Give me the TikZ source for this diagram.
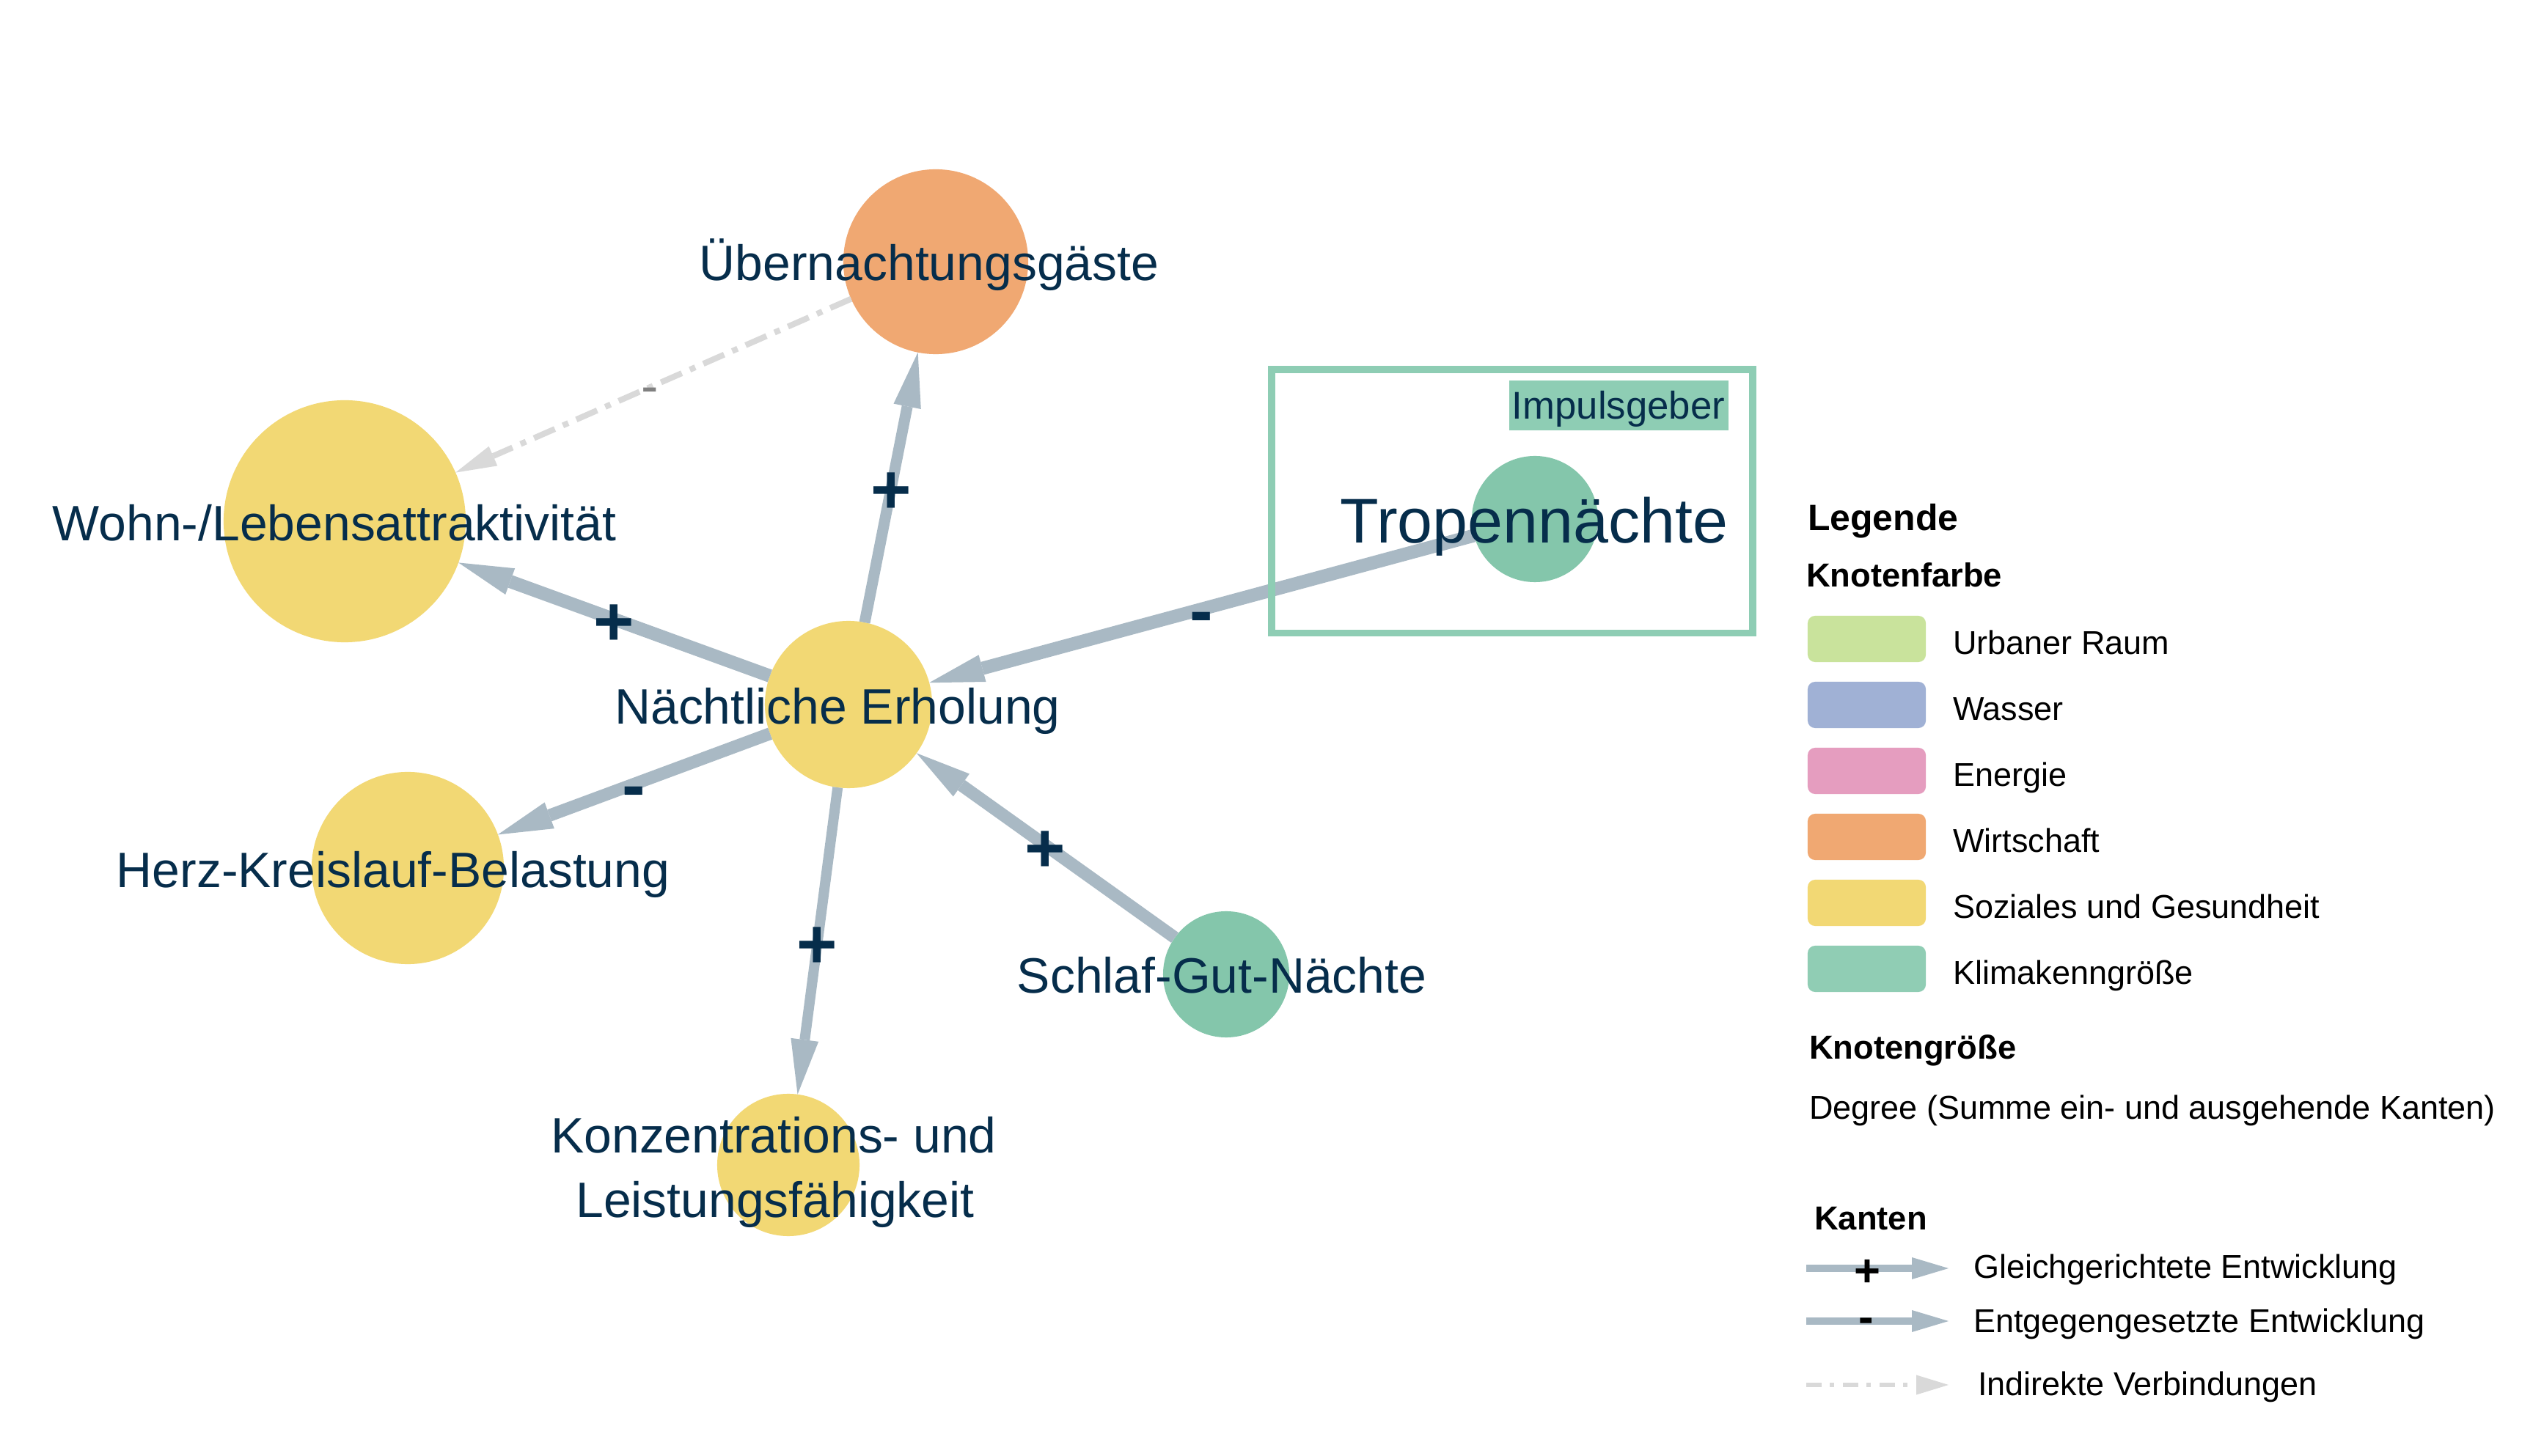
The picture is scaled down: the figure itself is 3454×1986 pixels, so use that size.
\documentclass[tikz,border=0pt]{standalone}
\usepackage{fontspec}
\setmainfont{Liberation Sans}
\usetikzlibrary{arrows.meta}
\definecolor{navy}{HTML}{062D4B}
\definecolor{edgegray}{HTML}{A9B9C4}
\definecolor{indgray}{HTML}{D9D9D9}
\definecolor{nyellow}{HTML}{F2D874}
\definecolor{norange}{HTML}{F0A872}
\definecolor{ngreen}{HTML}{84C6AB}
\definecolor{framegreen}{HTML}{8ECDB4}
\definecolor{cUrb}{HTML}{C9E39C}
\definecolor{cWas}{HTML}{A0B1D5}
\definecolor{cEne}{HTML}{E59DBF}
\definecolor{cWir}{HTML}{F0A872}
\definecolor{cSoz}{HTML}{F2D874}
\definecolor{cKli}{HTML}{90CDB4}
\begin{document}
\begin{tikzpicture}[x=0.01cm,y=-0.01cm,
  nodec/.style={circle,inner sep=0pt,outer sep=0pt,draw=none},
  lab/.style={inner sep=0pt,outer sep=0pt,text=navy,anchor=base,font=\fontsize{19.3}{23}\selectfont},
  sgn/.style={inner sep=0pt,outer sep=0pt,text=navy,anchor=base,font=\fontsize{27}{32}\selectfont\bfseries},
  edgeline/.style={draw=edgegray,line width=#1,-{Triangle[length=0.75cm,width=0.38cm,line width=0pt]}},
  indirect/.style={draw=indgray,line width=0.08cm,dash pattern=on 0.31cm off 0.12cm on 0.08cm off 0.12cm,-{Triangle[length=0.56cm,width=0.29cm,line width=0pt]}},
  swatch/.style={draw=none,rounded corners=0.1cm,minimum width=1.61cm,minimum height=0.63cm,inner sep=0pt,outer sep=0pt},
  legtxt/.style={inner sep=0pt,outer sep=0pt,anchor=base west,text=black,font=\fontsize{12.8}{15}\selectfont},
  leghead/.style={inner sep=0pt,outer sep=0pt,anchor=base west,text=black,font=\fontsize{12.9}{15}\selectfont\bfseries},
  legsgn/.style={inner sep=0pt,outer sep=0pt,anchor=base,text=black,font=\fontsize{17.5}{21}\selectfont\bfseries}
]
\fill[white] (0,0) rectangle (3454,1986);
\useasboundingbox (0,0) rectangle (3454,1986);

% nodes (circles)
\node[nodec,fill=norange,minimum size=2.52cm] (ueb) at (1276,357) {};
\node[nodec,fill=nyellow,minimum size=3.30cm] (wohn) at (470,711) {};
\node[nodec,fill=nyellow,minimum size=2.28cm] (ne) at (1157,961) {};
\node[nodec,fill=nyellow,minimum size=2.62cm] (herz) at (556,1184) {};
\node[nodec,fill=nyellow,minimum size=1.94cm] (konz) at (1075,1589) {};
\node[nodec,fill=ngreen,minimum size=1.72cm] (schlaf) at (1672,1329) {};
\node[nodec,fill=ngreen,minimum size=1.72cm] (tropen) at (2093,708) {};

% edges
\draw[edgeline=0.18cm] (ne) -- (wohn);
\draw[edgeline=0.15cm] (ne) -- (ueb);
\draw[edgeline=0.18cm] (tropen) -- (ne);
\draw[edgeline=0.17cm] (ne) -- (herz);
\draw[edgeline=0.14cm] (ne) -- (konz);
\draw[edgeline=0.17cm] (schlaf) -- (ne);
\draw[indirect] (ueb) -- (wohn);

% Impulsgeber frame
\node[draw=framegreen,line width=0.095cm,minimum width=6.56cm,minimum height=3.595cm,inner sep=0pt,outer sep=0pt] (impframe) at (2062,683.75) {};
\node[fill=framegreen,minimum width=2.99cm,minimum height=0.68cm,inner sep=0pt,outer sep=0pt] (impbox) at (2207.5,553) {};
\node[inner sep=0pt,anchor=base,text=navy,font=\fontsize{15}{18}\selectfont] (imp) at (2207,572) {Impulsgeber};

% node labels
\node[lab] (lueb) at (1267,383) {Übernachtungsgäste};
\node[lab] (lwohn) at (456,738) {Wohn-/Lebensattraktivität};
\node[lab] (lne) at (1142,988) {Nächtliche Erholung};
\node[lab] (lherz) at (536,1211) {Herz-Kreislauf-Belastung};
\node[lab] (lkonza) at (1055,1572) {Konzentrations- und};
\node[lab] (lkonzb) at (1057,1660) {Leistungsfähigkeit};
\node[lab] (lschlaf) at (1666,1354) {Schlaf-Gut-Nächte};
\node[lab,font=\fontsize{24.5}{29}\selectfont] (ltropen) at (2092,741) {Tropennächte};

% edge signs
\node[sgn] (s1) at (837,880.5) {+};
\node[sgn] (s2) at (1215,700.5) {+};
\node[sgn] (s3) at (1638,866) {-};
\node[sgn] (s4) at (864,1104) {-};
\node[sgn] (s5) at (1114,1320.5) {+};
\node[sgn] (s6) at (1425,1189.5) {+};
\node[inner sep=0pt,anchor=base,text=gray,font=\fontsize{20}{24}\selectfont] (s7) at (886,551) {-};

% legend
\node[inner sep=0pt,outer sep=0pt,anchor=base west,font=\fontsize{14.2}{17}\selectfont\bfseries] (leg) at (2465,724) {Legende};
\node[leghead] (hfarbe) at (2463,801) {Knotenfarbe};
\node[swatch,fill=cUrb] (sw1) at (2545.5,871.5) {};
\node[swatch,fill=cWas] (sw2) at (2545.5,961.5) {};
\node[swatch,fill=cEne] (sw3) at (2545.5,1051.5) {};
\node[swatch,fill=cWir] (sw4) at (2545.5,1141.5) {};
\node[swatch,fill=cSoz] (sw5) at (2545.5,1231.5) {};
\node[swatch,fill=cKli] (sw6) at (2545.5,1321.5) {};
\node[legtxt] (t1) at (2663,892.5) {Urbaner Raum};
\node[legtxt] (t2) at (2663,982.5) {Wasser};
\node[legtxt] (t3) at (2663,1072.5) {Energie};
\node[legtxt] (t4) at (2663,1162.5) {Wirtschaft};
\node[legtxt] (t5) at (2663,1252.5) {Soziales und Gesundheit};
\node[legtxt] (t6) at (2663,1342.5) {Klimakenngröße};
\node[leghead] (hgroesse) at (2467,1445) {Knotengröße};
\node[legtxt] (tdeg) at (2467,1526) {Degree (Summe ein- und ausgehende Kanten)};
\node[leghead] (hkanten) at (2474,1677) {Kanten};

\coordinate (la1) at (2463,1730);
\coordinate (lb1) at (2657,1730);
\coordinate (la2) at (2463,1802);
\coordinate (lb2) at (2657,1802);
\coordinate (la3) at (2463,1889);
\coordinate (lb3) at (2657,1889);
\draw[draw=edgegray,line width=0.10cm,-{Triangle[length=0.50cm,width=0.30cm,line width=0pt]}] (la1) -- (lb1);
\draw[draw=edgegray,line width=0.10cm,-{Triangle[length=0.50cm,width=0.30cm,line width=0pt]}] (la2) -- (lb2);
\draw[draw=indgray,line width=0.053cm,dash pattern=on 0.21cm off 0.11cm on 0.06cm off 0.12cm,-{Triangle[length=0.44cm,width=0.27cm,line width=0pt]}] (la3) -- (lb3);
\node[legsgn] (lsp) at (2546,1754) {+};
\node[legsgn] (lsm) at (2545,1817) {-};
\node[legtxt] (te1) at (2691,1743) {Gleichgerichtete Entwicklung};
\node[legtxt] (te2) at (2691,1817) {Entgegengesetzte Entwicklung};
\node[legtxt] (te3) at (2697,1903) {Indirekte Verbindungen};
\end{tikzpicture}
\end{document}
